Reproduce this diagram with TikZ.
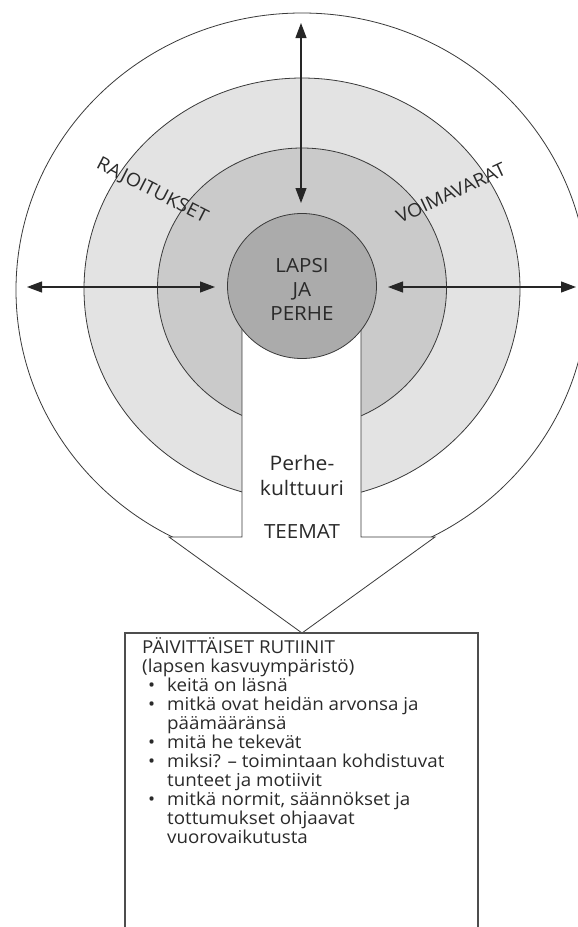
\documentclass[tikz,border=0pt]{standalone}
\usepackage{fontspec}
\setmainfont{Open Sans}[FakeStretch=1.055]
\usetikzlibrary{arrows.meta}
\definecolor{ringA}{HTML}{E3E3E3}
\definecolor{ringB}{HTML}{CACACA}
\definecolor{ringC}{HTML}{ABABAB}
\definecolor{edge}{HTML}{3A3A3A}
\definecolor{txt}{HTML}{2A2A2A}
\tikzset{
  ring/.style={draw=edge, line width=0.8pt},
  dblarrow/.style={draw=black!85, line width=1.1pt, {Triangle[length=15pt,width=11pt]}-{Triangle[length=15pt,width=11pt]}},
  label/.style={text=txt, inner sep=0pt},
  lst/.style={text=txt, inner sep=0pt, anchor=base west, font=\fontsize{17.8}{18.9}\selectfont},
}
\begin{document}
\begin{tikzpicture}[x=1pt,y=-1pt]
\useasboundingbox (0,0) rectangle (578,927);
\clip (0,0) rectangle (578,927);
\fill[white] (0,0) rectangle (578,927);
% rings
\draw[ring, fill=white] (302,290) ellipse [x radius=286pt, y radius=277pt];
\draw[ring, fill=ringA] (302,289) ellipse [x radius=218pt, y radius=211pt];
\draw[ring, fill=ringB] (302,288) ellipse [x radius=144.5pt, y radius=140pt];
% big downward arrow
\draw[ring, fill=white] (242,300) -- (242,537) -- (169,537) -- (302,633) -- (435,537) -- (361,537) -- (361,300) -- cycle;
% centre
\draw[ring, fill=ringC] (302,286) ellipse [x radius=74.5pt, y radius=72.5pt];
% box
\draw[draw=edge!90, line width=1.1pt] (125,950) -- (125,633) -- (478,633) -- (478,950);
% arrows
\coordinate (vt) at (301,23);
\coordinate (vb) at (301,203);
\coordinate (ll) at (27,287);
\coordinate (lr) at (215,287);
\coordinate (rl) at (388,287);
\coordinate (rr) at (576,287);
\draw[dblarrow] (vt) -- (vb);
\draw[dblarrow] (ll) -- (lr);
\draw[dblarrow] (rl) -- (rr);
% circle labels
\node[label, font=\fontsize{19.5}{24}\selectfont, align=center] (lapsi) at (302,289) {LAPSI\\JA\\PERHE};
\node[label, font=\fontsize{18.5}{20}\selectfont, rotate=-27] (rajo) at (152,191) {RAJOITUKSET};
\node[label, font=\fontsize{18.5}{20}\selectfont, rotate=25] (voima) at (451,193) {VOIMAVARAT};
\node[label, font=\fontsize{20}{25}\selectfont, align=center] (perhe) at (302,475) {Perhe-\\kulttuuri};
\node[label, font=\fontsize{19.5}{20}\selectfont] (teemat) at (302,532) {TEEMAT};
% list
\node[lst] (l1) at (142,653) {PÄIVITTÄISET RUTIINIT};
\node[lst] (l2) at (142,672) {(lapsen kasvuympäristö)};
\node[lst] (b1) at (148,691) {•};
\node[lst] (l3) at (167,691) {keitä on läsnä};
\node[lst] (b2) at (148,710) {•};
\node[lst] (l4) at (167,710) {mitkä ovat heidän arvonsa ja};
\node[lst] (l5) at (167,729) {päämääränsä};
\node[lst] (b3) at (148,748) {•};
\node[lst] (l6) at (167,748) {mitä he tekevät};
\node[lst] (b4) at (148,767) {•};
\node[lst] (l7) at (167,767) {miksi? – toimintaan kohdistuvat};
\node[lst] (l8) at (167,786) {tunteet ja motiivit};
\node[lst] (b5) at (148,805) {•};
\node[lst] (l9) at (167,805) {mitkä normit, säännökset ja};
\node[lst] (l10) at (167,824) {tottumukset ohjaavat};
\node[lst] (l11) at (167,843) {vuorovaikutusta};
\end{tikzpicture}
\end{document}
